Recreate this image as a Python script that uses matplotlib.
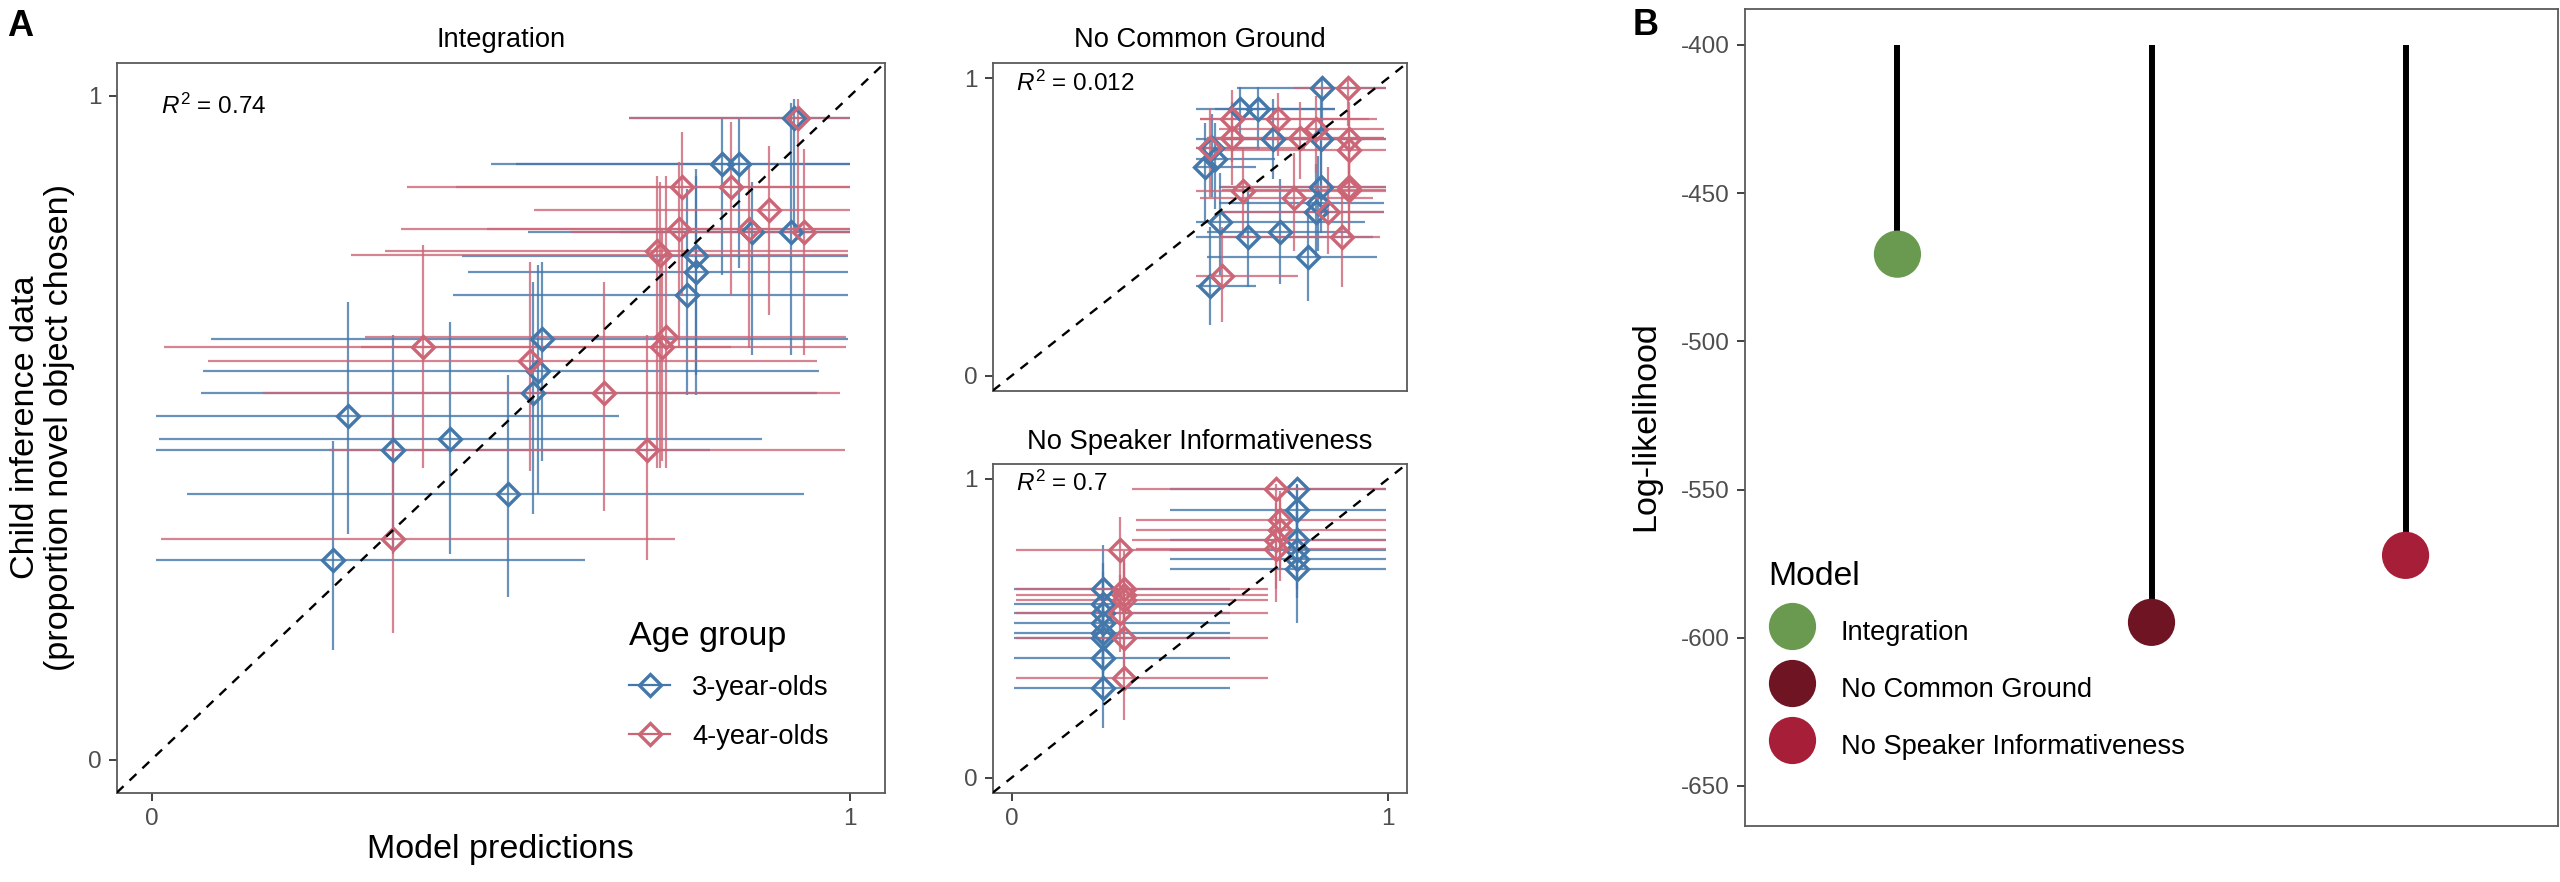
import matplotlib.pyplot as plt
from matplotlib.lines import Line2D
import numpy as np

plt.rcParams['font.family'] = ['Liberation Sans', 'DejaVu Sans']
plt.rcParams['mathtext.fontset'] = 'custom'
plt.rcParams['mathtext.rm'] = 'Liberation Sans'
plt.rcParams['mathtext.it'] = 'Liberation Sans:italic'
plt.rcParams['axes.unicode_minus'] = False

# ---- data: panel A, model prediction (x) vs child data (y), with intervals ----
age_groups = ['3-year-olds', '4-year-olds']

# Integration
int3_x = [.919, .816, .841, .859, .916, .779, .780, .767, .559, .553, .546, .281, .427, .345, .510, .260]
int3_y = [.967, .898, .898, .795, .795, .759, .734, .700, .633, .586, .552, .517, .483, .467, .400, .300]
int3_xlo = [.683, .486, .522, .670, .539, .445, .453, .432, .085, .073, .071, .006, .011, .006, .051, .006]
int3_xhi = [1.0, 1.0, 1.0, 1.0, 1.0, .997, .997, .997, .997, .956, .953, .669, .874, .800, .934, .621]
int3_ylo = [.80, .73, .74, .61, .61, .58, .55, .55, .45, .40, .37, .34, .31, .31, .245, .165]
int3_yhi = [.995, .965, .965, .87, .99, .89, .88, .86, .75, .745, .72, .69, .66, .64, .58, .48]

int4_x = [.925, .759, .829, .884, .755, .855, .934, .724, .728, .736, .730, .389, .541, .647, .709, .345]
int4_y = [.967, .862, .862, .828, .800, .799, .795, .767, .760, .636, .622, .621, .601, .552, .467, .333]
int4_xlo = [.683, .365, .436, .547, .357, .480, .600, .334, .285, .305, .300, .018, .080, .159, .254, .014]
int4_xhi = [1.0, 1.0, 1.0, 1.0, 1.0, 1.0, 1.0, .997, .997, .994, .830, .994, .953, .986, .992, .750]
int4_ylo = [.80, .70, .70, .67, .62, .62, .61, .44, .44, .44, .45, .44, .435, .375, .30, .19]
int4_yhi = [.995, .945, .96, .925, .90, .90, .92, .88, .87, .88, .80, .775, .75, .72, .64, .52]

# No Common Ground
ncg3_x = [.826, .607, .655, .695, .823, .541, .514, .532, .823, .814, .810, .554, .629, .713, .788, .527]
ncg3_y = [.968, .897, .897, .797, .797, .730, .702, .764, .635, .580, .552, .516, .468, .483, .398, .301]
ncg3_xlo = [.60, .49, .54, .49, .56, .49, .49, .49, .55, .55, .55, .49, .49, .52, .52, .49]
ncg3_xhi = [.996, .86, .86, .94, .996, .70, .65, .66, .996, .99, .99, .94, .96, .90, .97, .65]
ncg3_ylo = [.84, .78, .76, .66, .64, .56, .52, .60, .48, .42, .40, .34, .30, .31, .25, .17]
ncg3_yhi = [1.0, .97, .97, .93, .93, .85, .85, .88, .79, .74, .71, .68, .64, .66, .56, .50]

ncg4_x = [.894, .585, .708, .585, .766, .808, .898, .898, .527, .616, .750, .898, .898, .841, .879, .558]
ncg4_y = [.968, .864, .864, .800, .800, .830, .797, .758, .767, .621, .599, .624, .635, .552, .468, .334]
ncg4_xlo = [.75, .50, .50, .52, .52, .55, .55, .55, .49, .49, .50, .56, .56, .55, .55, .49]
ncg4_xhi = [.996, .97, .95, .99, .99, .99, .996, .996, .78, .996, .96, .996, .996, .99, .98, .76]
ncg4_ylo = [.84, .72, .74, .64, .66, .68, .66, .62, .60, .47, .42, .47, .49, .41, .30, .18]
ncg4_yhi = [1.0, .96, .95, .92, .92, .94, .92, .89, .90, .77, .75, .76, .78, .70, .62, .50]

# No Speaker Informativeness
nsi3_x = [.242, .242, .242, .242, .242, .242, .242, .242, .759, .759, .759, .759, .759, .759]
nsi3_y = [.633, .583, .55, .517, .483, .467, .40, .30, .967, .897, .794, .761, .733, .70]
nsi3_xlo = [.006, .006, .006, .006, .006, .006, .006, .006, .42, .42, .42, .42, .42, .42]
nsi3_xhi = [.58, .58, .58, .58, .58, .58, .58, .58, .996, .996, .996, .996, .996, .996]
nsi3_ylo = [.50, .45, .42, .38, .35, .33, .27, .167, .85, .78, .67, .63, .60, .519]
nsi3_yhi = [.778, .72, .69, .66, .62, .60, .54, .44, .983, .98, .92, .89, .87, .84]

nsi4_x = [.289, .298, .298, .298, .289, .298, .298, .704, .713, .713, .704, .704]
nsi4_y = [.761, .633, .611, .594, .55, .467, .333, .967, .861, .828, .794, .767]
nsi4_xlo = [.011, .011, .011, .011, .011, .011, .011, .32, .33, .33, .32, .33]
nsi4_xhi = [.682, .682, .682, .682, .682, .682, .682, .996, .996, .996, .996, .996]
nsi4_ylo = [.64, .50, .48, .46, .42, .34, .194, .85, .70, .66, .63, .589]
nsi4_yhi = [.874, .76, .74, .72, .68, .60, .47, .983, .96, .95, .92, .90]

# ---- data: panel B ----
models = ['Integration', 'No Common Ground', 'No Speaker Informativeness']
loglik = [-470.6, -594.8, -572.2]
model_colors = ['#6A9A4F', '#6E1423', '#A71E38']

BLUE = '#4477AA'
RED = '#CC6677'
GRID = '#4D4D4D'
TICK_FS = 17.5


def style_axes(ax):
    for s in ax.spines.values():
        s.set_color('#5A5A5A')
        s.set_linewidth(1.3)
    ax.tick_params(length=6, width=1.3, color='#333333', labelcolor=GRID,
                   labelsize=TICK_FS, pad=5)


def scatter_panel(ax, groups, r2, title, title_pad):
    for (x, y, xlo, xhi, ylo, yhi), col in zip(groups, [BLUE, RED]):
        x, y = np.array(x), np.array(y)
        xerr = [x - np.array(xlo), np.array(xhi) - x]
        yerr = [y - np.array(ylo), np.array(yhi) - y]
        ax.errorbar(x, y, xerr=xerr, yerr=yerr, fmt='none', ecolor=col,
                    elinewidth=1.6, alpha=0.8, capsize=0, zorder=2)
        ax.plot(x, y, ls='none', marker='D', ms=11.5, mfc='none', mec=col,
                mew=2.4, zorder=3)
    ax.axline((0, 0), slope=1, color='black', ls=(0, (4, 3.5)), lw=1.7, zorder=4)
    ax.set_xlim(-0.05, 1.05)
    ax.set_ylim(-0.05, 1.05)
    ax.set_xticks([0, 1])
    ax.set_yticks([0, 1])
    ax.text(0.013, 0.984, r'$R^2$ = ' + r2, fontsize=17.5, va='center', ha='left')
    ax.set_title(title, fontsize=19.7, pad=title_pad)
    style_axes(ax)


fig = plt.figure(figsize=(25.6, 8.82), dpi=100)

ax_int = fig.add_axes([0.04559, 0.10125, 0.30012, 0.82766])
ax_ncg = fig.add_axes([0.38777, 0.55703, 0.16172, 0.37120])
ax_nsi = fig.add_axes([0.38777, 0.10125, 0.16172, 0.37268])
ax_b = fig.add_axes([0.68164, 0.06349, 0.31758, 0.92596])

scatter_panel(ax_int,
              [(int3_x, int3_y, int3_xlo, int3_xhi, int3_ylo, int3_yhi),
               (int4_x, int4_y, int4_xlo, int4_xhi, int4_ylo, int4_yhi)],
              '0.74', 'Integration', 11)
scatter_panel(ax_ncg,
              [(ncg3_x, ncg3_y, ncg3_xlo, ncg3_xhi, ncg3_ylo, ncg3_yhi),
               (ncg4_x, ncg4_y, ncg4_xlo, ncg4_xhi, ncg4_ylo, ncg4_yhi)],
              '0.012', 'No Common Ground', 12)
scatter_panel(ax_nsi,
              [(nsi3_x, nsi3_y, nsi3_xlo, nsi3_xhi, nsi3_ylo, nsi3_yhi),
               (nsi4_x, nsi4_y, nsi4_xlo, nsi4_xhi, nsi4_ylo, nsi4_yhi)],
              '0.7', 'No Speaker Informativeness', 11)
ax_ncg.set_xticks([])

ax_int.set_xlabel('Model predictions', fontsize=24.6)
ax_int.xaxis.set_label_coords(0.5, -0.056)
ax_int.set_ylabel('Child inference data\n(proportion novel object chosen)',
                  fontsize=24.6, linespacing=1.15)
ax_int.yaxis.set_label_coords(-0.054, 0.5)

handles = [Line2D([0], [0], color=c, marker='D', mfc='none', mec=c, mew=2.4,
                  ms=11.5, lw=1.6) for c in [BLUE, RED]]
ax_int.legend(handles, age_groups, title='Age group', loc='upper left',
              bbox_to_anchor=(0.63, 0.275), frameon=False, fontsize=19.6,
              title_fontsize=24.6, handlelength=1.5, handletextpad=0.8,
              labelspacing=0.85, borderpad=0.55, alignment='left')

# ---- panel B ----
pos = np.arange(1, len(models) + 1)
ax_b.vlines(pos, -400, loglik, color='black', lw=4.3, capstyle='butt', zorder=2)
ax_b.scatter(pos, loglik, s=34 ** 2, c=model_colors, zorder=3, linewidths=0)
ax_b.set_xlim(0.4, 3.6)
ax_b.set_ylim(-663.5, -388)
ax_b.set_yticks([-400, -450, -500, -550, -600, -650])
ax_b.set_xticks([])
ax_b.set_ylabel('Log-likelihood', fontsize=24.6)
ax_b.yaxis.set_label_coords(-0.103, 0.49)
style_axes(ax_b)

bh = [Line2D([], [], ls='none', marker='o', ms=34, color=c, mew=0) for c in model_colors]
ax_b.legend(bh, models, title='Model', loc='upper left', bbox_to_anchor=(-0.018, 0.371),
            frameon=False, fontsize=19.6, title_fontsize=24.3, handlelength=1.75,
            handleheight=1.7, handletextpad=0.9, labelspacing=0.75, borderpad=0.9,
            alignment='left')

fig.text(7 / 2560, 1 - 9 / 882, 'A', fontsize=26, fontweight='bold', va='top', ha='left')
fig.text(1633 / 2560, 1 - 8 / 882, 'B', fontsize=26, fontweight='bold', va='top', ha='left')

fig.savefig('out.png', dpi=100)
